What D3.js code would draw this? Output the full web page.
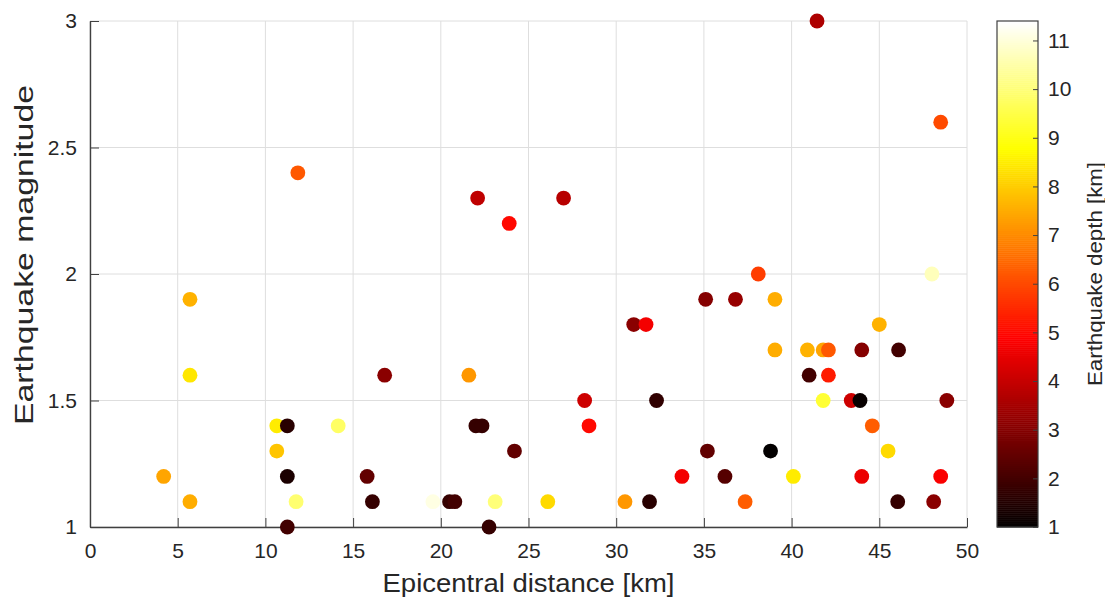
<!DOCTYPE html>
<html>
<head>
<meta charset="utf-8">
<script src="https://cdn.jsdelivr.net/npm/d3@7/dist/d3.min.js"></script>
<style>
  body { margin: 0; background: #fff; }
  svg { display: block; font-family: Arial, 'Liberation Sans', sans-serif; }
  .tick text { fill: #262626; font-size: 21px; }
  .axis path, .axis line { stroke: #404040; }
</style>
</head>
<body>
<div id="chart"></div>
<script>
// values
const distance = [
  41.45, 48.5, 11.85, 22.1, 27.0, 23.9, 38.1, 48.0,
  5.7, 35.1, 36.8, 39.05, 31.0, 31.7, 45.0,
  39.05, 40.9, 41.8, 42.1, 44.0, 46.1,
  5.7, 16.8, 21.6, 41.0, 42.1,
  41.8, 43.4, 43.9, 48.85, 28.2, 32.3,
  10.65, 11.25, 14.15, 22.0, 22.35, 28.45, 44.6,
  10.65, 24.2, 35.2, 38.8, 45.5,
  4.2, 11.25, 15.8, 33.75, 36.2, 40.1, 44.0, 48.5,
  5.7, 11.75, 16.1, 19.55, 20.5, 20.8, 23.1, 26.1, 30.5, 31.9, 37.35, 46.05, 48.1,
  11.25, 22.75
]
const magnitude = [
  3.0, 2.6, 2.4, 2.3, 2.3, 2.2, 2.0, 2.0,
  1.9, 1.9, 1.9, 1.9, 1.8, 1.8, 1.8,
  1.7, 1.7, 1.7, 1.7, 1.7, 1.7,
  1.6, 1.6, 1.6, 1.6, 1.6,
  1.5, 1.5, 1.5, 1.5, 1.5, 1.5,
  1.4, 1.4, 1.4, 1.4, 1.4, 1.4, 1.4,
  1.3, 1.3, 1.3, 1.3, 1.3,
  1.2, 1.2, 1.2, 1.2, 1.2, 1.2, 1.2, 1.2,
  1.1, 1.1, 1.1, 1.1, 1.1, 1.1, 1.1, 1.1, 1.1, 1.1, 1.1, 1.1, 1.1,
  1.0, 1.0
]
const depth = [
  3.6, 6.0, 6.2, 3.9, 3.8, 5.0, 5.8, 10.7,
  7.6, 3.0, 3.3, 7.5, 3.1, 4.7, 7.6,
  7.5, 7.6, 7.4, 6.2, 3.0, 2.0,
  8.4, 3.1, 7.2, 2.0, 5.3,
  9.3, 4.1, 1.1, 3.1, 4.1, 1.7,
  8.5, 1.6, 9.8, 1.8, 1.8, 5.0, 6.3,
  7.9, 2.5, 2.5, 1.0, 8.2,
  7.4, 1.4, 2.5, 4.7, 2.3, 8.5, 4.6, 4.8,
  7.5, 9.9, 1.8, 11.1, 1.8, 2.0, 10.0, 8.2, 7.2, 1.6, 6.3, 1.8, 3.1,
  2.0, 1.8
]

const xTicks = [0, 5, 10, 15, 20, 25, 30, 35, 40, 45, 50]
const yTicks = [1, 1.5, 2, 2.5, 3]
const depthTicks = [1, 2, 3, 4, 5, 6, 7, 8, 9, 10, 11]
const depthLimits = [1, 11.4]

const SIZE = Object.freeze({
  WIDTH: 1105,
  HEIGHT: 599,
  LEFT: 90,
  RIGHT: 967,
  TOP: 21,
  BOTTOM: 527,
  BAR_LEFT: 997,
  BAR_RIGHT: 1038,
})

// MATLAB "hot" colormap with 256 entries
const hot = (t) => {
  const m = 256
  const n = Math.floor(3 / 8 * m)
  const i = Math.min(m, Math.max(1, Math.floor(t * m) + 1))
  const r = Math.min(1, i / n)
  const g = Math.min(1, Math.max(0, (i - n) / n))
  const b = Math.min(1, Math.max(0, (i - 2 * n) / (m - 2 * n)))
  return d3.rgb(r * 255, g * 255, b * 255)
}

const buildChart = () => {
  const xScale = d3.scaleLinear().domain([0, 50]).range([SIZE.LEFT, SIZE.RIGHT])
  const yScale = d3.scaleLinear().domain([1, 3]).range([SIZE.BOTTOM, SIZE.TOP])
  const cNorm = d3.scaleLinear().domain(depthLimits).range([0, 1]).clamp(true)
  const cScale = d3.scaleLinear().domain(depthLimits).range([SIZE.BOTTOM, SIZE.TOP])

  const svg = d3.select('#chart')
    .append('svg')
    .attr('width', SIZE.WIDTH)
    .attr('height', SIZE.HEIGHT)

  // grid
  svg.append('g')
    .selectAll('line')
    .data(xTicks)
    .join('line')
    .attr('x1', d => xScale(d)).attr('x2', d => xScale(d))
    .attr('y1', SIZE.TOP).attr('y2', SIZE.BOTTOM)
    .attr('stroke', '#dedede')
  svg.append('g')
    .selectAll('line')
    .data(yTicks)
    .join('line')
    .attr('x1', SIZE.LEFT).attr('x2', SIZE.RIGHT)
    .attr('y1', d => yScale(d)).attr('y2', d => yScale(d))
    .attr('stroke', '#dedede')

  // axes, ticks pointing inward like matlab
  svg.append('g')
    .attr('class', 'axis')
    .attr('transform', `translate(0, ${SIZE.BOTTOM})`)
    .call(d3.axisBottom(xScale).tickValues(xTicks).tickSize(-9).tickPadding(16).tickSizeOuter(0))
  svg.append('g')
    .attr('class', 'axis')
    .attr('transform', `translate(${SIZE.LEFT}, 0)`)
    .call(d3.axisLeft(yScale).tickValues(yTicks).tickFormat(d3.format('')).tickSize(-9).tickPadding(13).tickSizeOuter(0))

  svg.selectAll('.axis path').attr('stroke-width', 1.4)

  // points
  svg.append('g')
    .selectAll('circle')
    .data(distance.map((d, i) => [d, magnitude[i], depth[i]]))
    .join('circle')
    .attr('cx', d => xScale(d[0]))
    .attr('cy', d => yScale(d[1]))
    .attr('r', 7.4)
    .attr('fill', d => hot(cNorm(d[2])))

  // colorbar
  const steps = d3.range(256)
  const stepSize = (depthLimits[1] - depthLimits[0]) / 256
  svg.append('g')
    .selectAll('rect')
    .data(steps)
    .join('rect')
    .attr('x', SIZE.BAR_LEFT)
    .attr('width', SIZE.BAR_RIGHT - SIZE.BAR_LEFT)
    .attr('y', i => cScale(depthLimits[0] + (i + 1) * stepSize))
    .attr('height', i => cScale(depthLimits[0] + i * stepSize) - cScale(depthLimits[0] + (i + 1) * stepSize) + 0.5)
    .attr('fill', i => hot((i + 0.5) / 256))

  svg.append('rect')
    .attr('x', SIZE.BAR_LEFT)
    .attr('y', SIZE.TOP)
    .attr('width', SIZE.BAR_RIGHT - SIZE.BAR_LEFT)
    .attr('height', SIZE.BOTTOM - SIZE.TOP)
    .attr('fill', 'none')
    .attr('stroke', '#404040')
    .attr('stroke-width', 1.2)

  svg.append('g')
    .attr('class', 'axis')
    .attr('transform', `translate(${SIZE.BAR_RIGHT}, 0)`)
    .call(d3.axisRight(cScale).tickValues(depthTicks).tickFormat(d3.format('')).tickSize(-5).tickPadding(10).tickSizeOuter(0))
    .call(g => g.select('.domain').remove())

  // labels
  svg.append('text')
    .attr('x', (SIZE.LEFT + SIZE.RIGHT) / 2)
    .attr('y', 592)
    .attr('text-anchor', 'middle')
    .attr('fill', '#262626')
    .style('font-size', '26px')
    .attr('textLength', 292)
    .attr('lengthAdjust', 'spacingAndGlyphs')
    .text('Epicentral distance [km]')

  svg.append('text')
    .attr('transform', 'translate(33, 255) rotate(-90)')
    .attr('text-anchor', 'middle')
    .attr('fill', '#262626')
    .style('font-size', '25px')
    .attr('textLength', 340)
    .attr('lengthAdjust', 'spacingAndGlyphs')
    .text('Earthquake magnitude')

  svg.append('text')
    .attr('transform', 'translate(1102, 274) rotate(-90)')
    .attr('text-anchor', 'middle')
    .attr('fill', '#262626')
    .style('font-size', '21px')
    .attr('textLength', 224)
    .attr('lengthAdjust', 'spacingAndGlyphs')
    .text('Earthquake depth [km]')
}

document.addEventListener('DOMContentLoaded', () => {
  buildChart()
})
</script>
</body>
</html>
